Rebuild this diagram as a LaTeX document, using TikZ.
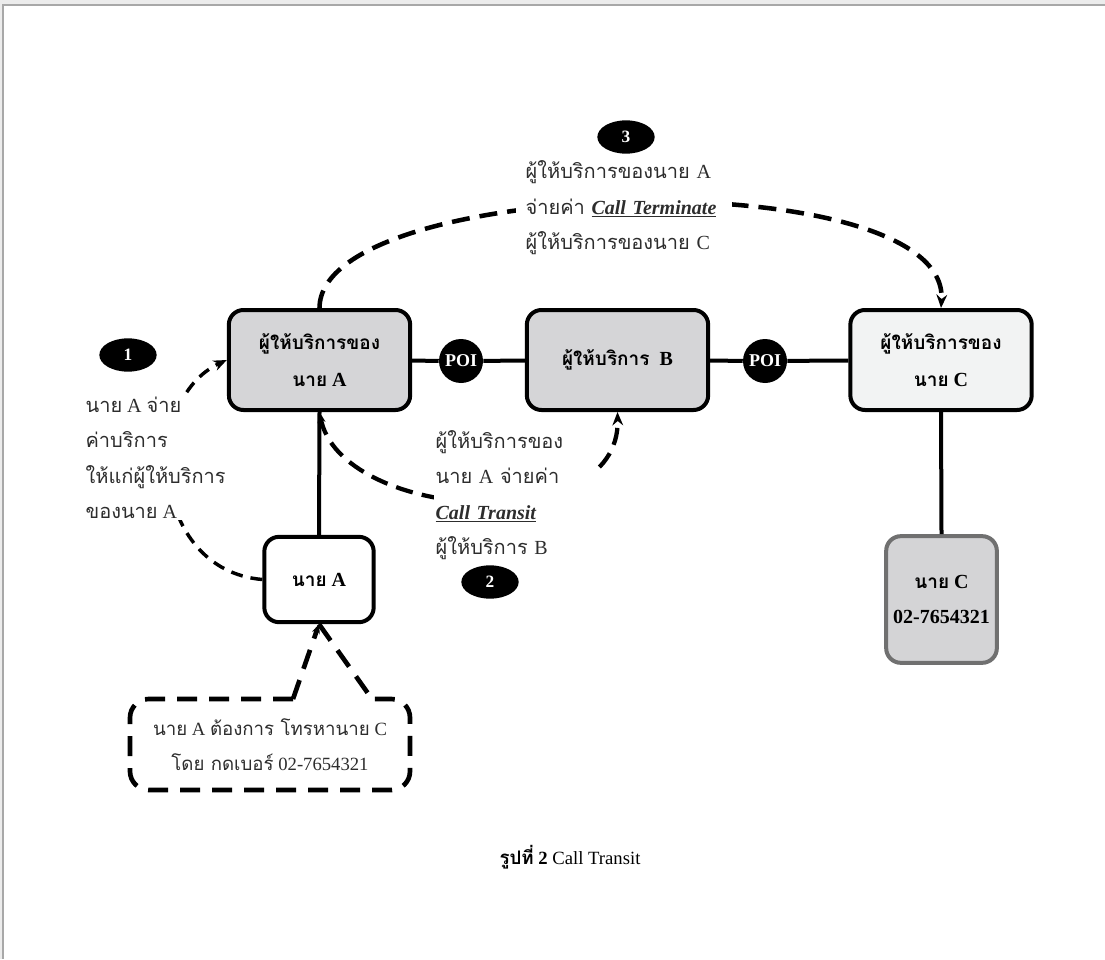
\documentclass[tikz,border=0pt]{standalone}
\usepackage{fontspec}
\setmainfont{Liberation Serif}
\newfontfamily\thf[Script=Thai]{Loma}
\newfontfamily\thb[Script=Thai, Scale=0.95]{Loma}
\usetikzlibrary{arrows.meta,shapes.geometric}

\definecolor{framebg}{RGB}{236,236,236}
\definecolor{frameline}{RGB}{168,168,168}
\definecolor{boxgrey}{RGB}{213,213,215}
\definecolor{boxlight}{RGB}{242,243,243}
\definecolor{ncfill}{RGB}{212,212,214}
\definecolor{ncline}{RGB}{112,112,112}
\definecolor{notegrey}{RGB}{45,45,45}

% Thai runs: \tx for plain labels, \tb for the bold box captions
\newcommand\tx[1]{{\thf #1}}
\newcommand\tb[1]{{\thb #1}}

\tikzset{
  prov/.style={draw=black, line width=3pt, rounded corners=11pt, minimum width=136pt,
    minimum height=75pt, align=center, inner sep=0pt, font=\fontsize{15}{28}\selectfont\bfseries},
  person/.style={draw=black, line width=3pt, rounded corners=11pt, fill=white, align=center,
    inner sep=0pt, font=\fontsize{15}{26}\selectfont\bfseries},
  poi/.style={circle, fill=black, text=white, minimum size=33pt, inner sep=0pt,
    font=\fontsize{13.5}{13.5}\selectfont\bfseries},
  badge/.style={ellipse, fill=black, text=white, minimum width=43pt, minimum height=25pt,
    inner sep=0pt, font=\fontsize{13}{13}\selectfont\bfseries},
  conn/.style={line width=3pt, draw=black},
  note/.style={align=left, fill=white, inner sep=1pt, text=notegrey,
    font=\fontsize{15}{26.6}\selectfont},
  tipA/.style={-{Stealth[length=10pt,width=8pt]}},
}

\begin{document}
\begin{tikzpicture}[x=0.75pt, y=-0.75pt]
\useasboundingbox (0,0) rectangle (1105,959);
% page frame
\fill[framebg] (0,0) rectangle (1105,959);
\fill[white] (3.5,5.5) rectangle (1105,959);
\draw[frameline, line width=1.6pt] (3,959) -- (3,5) -- (1105,5);

% provider boxes and POIs
\node[prov, fill=boxgrey]  (pA) at (319.5,360) {\tb{ผู้ให้บริการของ}\\\tb{นาย} A};
\node[poi]                 (poi1) at (461,361) {POI};
\node[prov, fill=boxgrey]  (pB) at (617.5,360) {\tb{ผู้ให้บริการ}\ \ B};
\node[poi]                 (poi2) at (765,361) {POI};
\node[prov, fill=boxlight] (pC) at (941,360) {\tb{ผู้ให้บริการของ}\\\tb{นาย} C};

% subscribers
\node[person, minimum width=82pt, minimum height=64pt] (nA) at (319,579.5) {\tb{นาย} A};
\node[person, draw=ncline, fill=ncfill, minimum width=83pt, minimum height=95pt] (nC) at (941.5,599.5)
  {\tb{นาย} C\\02-7654321};

% solid links
\draw[conn] (pA) -- (poi1);
\draw[conn] (poi1) -- (pB);
\draw[conn] (pB) -- (poi2);
\draw[conn] (poi2) -- (pC);
\draw[conn] (pA.south) -- (nA.north);
\draw[conn] (pC.south) -- (nC.north);

% payment flows
\draw[line width=2.6pt, dash pattern=on 9pt off 6pt, tipA]
  (nA.west) .. controls (150,570) and (140,400) .. (pA.west);
\draw[line width=3.2pt, dash pattern=on 13pt off 7pt,
  {Stealth[length=8pt,width=6pt]}-{Stealth[length=10pt,width=8pt]}]
  (pA.south) .. controls (340,520) and (620,540) .. (pB.south);
\draw[line width=3.4pt, dash pattern=on 13.5pt off 7.5pt, tipA]
  (pA.north) .. controls (320,175) and (950,160) .. (pC.north);

% flow labels
\node[note, anchor=west] (t1) at (84,458)
  {\tx{นาย} A \tx{จ่าย}\\\tx{ค่าบริการ}\\\tx{ให้แก่ผู้ให้บริการ}\\\tx{ของนาย} A};
\node[badge] (b1) at (128,355) {1};

\node[note, anchor=west, text width=118pt] (t2) at (434,495)
  {\tx{ผู้ให้บริการของ}\\\tx{นาย} A \tx{จ่ายค่า}\\\textbf{\textit{\underline{Call Transit}}}\\\tx{ผู้ให้บริการ} B};
\node[badge] (b2) at (490,582) {2};

\node[note, anchor=west, inner xsep=7pt, text width=148pt] (t3) at (516,208)
  {\tx{ผู้ให้บริการของนาย} A\\\tx{จ่ายค่า} \textbf{\textit{\underline{Call Terminate}}}\\\tx{ผู้ให้บริการของนาย} C};
\node[badge] (b3) at (626,137) {3};

% caller's intent
\node[align=center, text=notegrey, font=\fontsize{14}{26}\selectfont] (ask) at (270,745)
  {\tx{นาย} A \tx{ต้องการ โทรหานาย} C\\\tx{โดย กดเบอร์} 02-7654321};
\draw[line width=3.5pt, dash pattern=on 15pt off 9pt, rounded corners=14pt]
  (293,699) -- (130,699) -- (130,790) -- (410,790) -- (410,699) -- (372,699);
\draw[line width=3.5pt, dash pattern=on 15pt off 9pt, -{Stealth[length=7pt,width=6pt]}]
  (293,699) -- (nA.south);
\draw[line width=3.5pt, dash pattern=on 15pt off 9pt]
  (nA.south) -- (372,699);

% caption
\node[font=\fontsize{14}{18}\selectfont] (cap) at (570,857)
  {\tx{\bfseries รูปที่} \textbf{2} Call Transit};
\end{tikzpicture}
\end{document}
